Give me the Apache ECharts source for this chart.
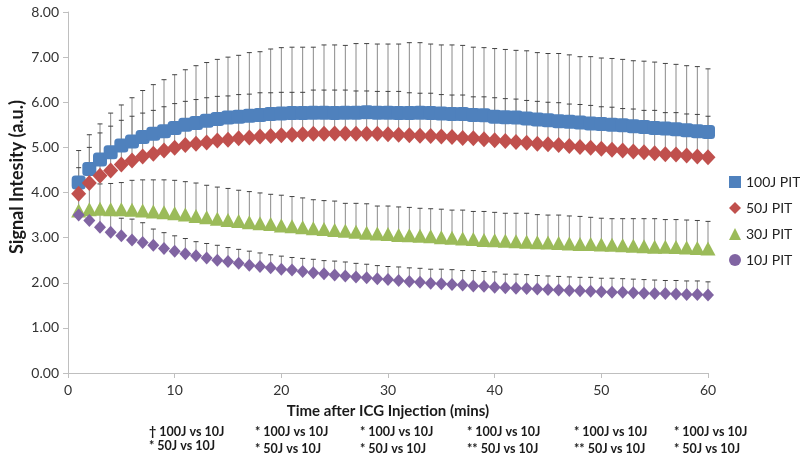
<!DOCTYPE html>
<html>
<head>
<meta charset="utf-8">
<script src="https://cdn.jsdelivr.net/npm/echarts@6/dist/echarts.min.js"></script>
<style>html,body{margin:0;padding:0;background:#fff;}#c{width:800px;height:459px;}</style>
</head>
<body>
<div id="c"></div>
<script>
var minutes = [];
for (var m = 1; m <= 60; m++) minutes.push(m);

var seriesNames = ['100J PIT', '50J PIT', '30J PIT', '10J PIT'];

var mean100 = [4.22,4.52,4.73,4.89,5.04,5.13,5.23,5.30,5.36,5.43,5.50,5.54,5.59,5.63,5.66,5.68,5.70,5.72,5.74,5.75,
  5.76,5.76,5.77,5.77,5.76,5.77,5.77,5.78,5.77,5.77,5.76,5.76,5.77,5.76,5.75,5.74,5.74,5.72,5.71,5.68,
  5.67,5.66,5.64,5.62,5.60,5.58,5.57,5.55,5.53,5.52,5.50,5.49,5.47,5.45,5.43,5.42,5.40,5.38,5.36,5.34];
var upper100 = [4.93,5.28,5.52,5.76,5.94,6.10,6.26,6.39,6.50,6.61,6.72,6.81,6.88,6.95,7.00,7.04,7.10,7.12,7.18,7.21,
  7.22,7.22,7.22,7.27,7.27,7.26,7.30,7.30,7.29,7.29,7.29,7.32,7.32,7.29,7.27,7.27,7.26,7.22,7.21,7.19,
  7.17,7.15,7.14,7.10,7.08,7.08,7.05,7.01,7.01,6.98,6.97,6.95,6.92,6.91,6.89,6.86,6.84,6.81,6.79,6.74];

var mean50 = [3.97,4.21,4.37,4.49,4.62,4.71,4.80,4.86,4.93,4.99,5.05,5.08,5.11,5.15,5.17,5.20,5.22,5.24,5.25,5.27,
  5.28,5.29,5.30,5.30,5.31,5.31,5.30,5.30,5.30,5.29,5.28,5.27,5.26,5.25,5.24,5.23,5.21,5.20,5.18,5.16,
  5.14,5.12,5.10,5.08,5.07,5.05,5.03,5.01,4.99,4.97,4.95,4.93,4.91,4.89,4.87,4.85,4.84,4.82,4.80,4.78];
var upper50 = [4.55,5.00,5.32,5.47,5.60,5.69,5.76,5.82,5.90,5.97,6.02,6.06,6.10,6.13,6.14,6.17,6.18,6.21,6.21,6.22,
  6.22,6.22,6.27,6.27,6.27,6.27,6.25,6.25,6.24,6.24,6.24,6.21,6.20,6.20,6.17,6.16,6.16,6.12,6.12,6.10,
  6.08,6.07,6.04,6.02,6.00,5.99,5.96,5.95,5.93,5.90,5.89,5.86,5.85,5.82,5.82,5.77,5.77,5.74,5.73,5.69];

var mean30 = [3.60,3.63,3.64,3.63,3.63,3.62,3.60,3.58,3.56,3.54,3.51,3.48,3.45,3.42,3.39,3.37,3.34,3.32,3.30,3.27,
  3.25,3.23,3.21,3.19,3.17,3.15,3.13,3.11,3.09,3.08,3.06,3.05,3.04,3.03,3.01,3.00,2.98,2.97,2.95,2.94,
  2.93,2.92,2.91,2.90,2.89,2.88,2.87,2.86,2.86,2.85,2.84,2.83,2.82,2.81,2.80,2.80,2.79,2.78,2.77,2.76];
var upper30 = [4.00,4.15,4.19,4.20,4.22,4.27,4.28,4.28,4.28,4.27,4.24,4.21,4.16,4.12,4.09,4.05,4.02,3.99,3.96,3.94,
  3.91,3.88,3.84,3.82,3.81,3.76,3.76,3.75,3.70,3.70,3.68,3.67,3.65,3.64,3.63,3.61,3.61,3.58,3.58,3.56,
  3.54,3.54,3.54,3.51,3.50,3.50,3.48,3.47,3.45,3.43,3.42,3.42,3.42,3.42,3.42,3.40,3.40,3.39,3.38,3.36];

var mean10 = [3.50,3.38,3.23,3.12,3.04,2.95,2.89,2.83,2.76,2.70,2.64,2.60,2.55,2.50,2.47,2.43,2.39,2.36,2.33,2.30,
  2.28,2.25,2.22,2.20,2.17,2.15,2.13,2.11,2.09,2.07,2.05,2.03,2.01,1.99,1.98,1.96,1.95,1.93,1.92,1.90,
  1.89,1.88,1.87,1.86,1.85,1.84,1.83,1.82,1.81,1.80,1.79,1.79,1.78,1.77,1.76,1.76,1.75,1.74,1.74,1.73];
var upper10 = [3.55,3.55,3.60,3.55,3.43,3.41,3.33,3.19,3.11,3.04,2.98,2.91,2.87,2.83,2.78,2.74,2.70,2.66,2.62,2.59,
  2.56,2.54,2.52,2.49,2.48,2.46,2.43,2.41,2.38,2.36,2.35,2.33,2.32,2.30,2.30,2.29,2.27,2.27,2.25,2.24,
  2.19,2.19,2.18,2.16,2.15,2.14,2.13,2.12,2.12,2.10,2.10,2.09,2.08,2.07,2.06,2.05,2.05,2.04,2.04,2.02];

var xTicks = [0, 10, 20, 30, 40, 50, 60];
var yTicks = [0, 1, 2, 3, 4, 5, 6, 7, 8];

var annotRow1 = ['\u2020 100J vs 10J', '* 100J vs 10J', '* 100J vs 10J', '* 100J vs 10J', '* 100J vs 10J', '* 100J vs 10J'];
var annotRow2 = ['* 50J vs 10J', '* 50J vs 10J', '* 50J vs 10J', '** 50J vs 10J', '** 50J vs 10J', '* 50J vs 10J'];

var colors = ['#4F81BD', '#C0504D', '#9BBB59', '#8064A2'];
var symbols = ['roundRect', 'diamond', 'triangle', 'diamond'];
var symbolSizes = [[14, 14], [15, 16], [15, 14], [12, 13]];
var means = [mean100, mean50, mean30, mean10];
var uppers = [upper100, upper50, upper30, upper10];

var FONT = 'Lato, "Open Sans", sans-serif';

function pts(arr) { return minutes.map(function (m, i) { return [m, arr[i]]; }); }
function errPts(meanArr, upArr) { return minutes.map(function (m, i) { return [m, meanArr[i], upArr[i]]; }); }

function renderErr(params, api) {
  var x = api.value(0);
  var p0 = api.coord([x, api.value(1)]);
  var p1 = api.coord([x, api.value(2)]);
  return {
    type: 'group',
    children: [
      { type: 'line', shape: { x1: p0[0], y1: p0[1], x2: p1[0], y2: p1[1] }, style: { stroke: '#8a8a8a', lineWidth: 1 } },
      { type: 'line', shape: { x1: p1[0] - 2.5, y1: p1[1], x2: p1[0] + 2.5, y2: p1[1] }, style: { stroke: '#404040', lineWidth: 1 } }
    ]
  };
}

var series = [];
for (var s = 0; s < 4; s++) {
  series.push({
    name: seriesNames[s] + ' err',
    type: 'custom',
    renderItem: renderErr,
    data: errPts(means[s], uppers[s]),
    encode: { x: 0, y: [1, 2] },
    z: 1,
    silent: true
  });
}
for (var s2 = 0; s2 < 4; s2++) {
  series.push({
    name: seriesNames[s2],
    type: 'scatter',
    data: pts(means[s2]),
    symbol: symbols[s2],
    symbolSize: symbolSizes[s2],
    itemStyle: { color: colors[s2], opacity: 1 },
    z: 2 + s2
  });
}

var graphics = [{
  type: 'text', x: 17, y: 177, rotation: Math.PI / 2,
  style: { text: 'Signal Intesity (a.u.)', font: 'bold 18px ' + FONT, fill: '#1a1a1a', align: 'center', verticalAlign: 'middle' }
}];
var colX = [149, 255, 360, 467, 574, 674];
for (var c = 0; c < colX.length; c++) {
  graphics.push({ type: 'text', x: colX[c], y: 432, style: { text: annotRow1[c], font: 'bold 12.5px ' + FONT, fill: '#1a1a1a', align: 'left', verticalAlign: 'middle' } });
  graphics.push({ type: 'text', x: colX[c], y: c === 0 ? 446 : 449, style: { text: annotRow2[c], font: 'bold 12.5px ' + FONT, fill: '#1a1a1a', align: 'left', verticalAlign: 'middle' } });
}

var chart = echarts.init(document.getElementById('c'), null, { renderer: 'canvas' });
chart.setOption({
  animation: false,
  backgroundColor: '#ffffff',
  color: colors,
  grid: { left: 68, right: 92, top: 12, bottom: 86, containLabel: false },
  legend: {
    data: seriesNames.map(function (n, i) { return { name: n, icon: ['rect', 'diamond', 'triangle', 'circle'][i] }; }),
    orient: 'vertical',
    left: 724, top: 170,
    itemWidth: 12, itemHeight: 12, itemGap: 12,
    textStyle: { fontFamily: FONT, fontSize: 14, color: '#222' }
  },
  xAxis: {
    type: 'value', min: xTicks[0], max: xTicks[xTicks.length - 1], interval: 10,
    name: 'Time after ICG Injection (mins)', nameLocation: 'middle', nameGap: 31,
    nameTextStyle: { fontFamily: FONT, fontWeight: 'bold', fontSize: 15, color: '#1a1a1a' },
    axisLine: { lineStyle: { color: '#bfbfbf' } },
    axisTick: { show: true, inside: false, length: 5, lineStyle: { color: '#bfbfbf' } },
    axisLabel: { fontFamily: FONT, fontSize: 14, color: '#333', margin: 10 },
    splitLine: { show: false }
  },
  yAxis: {
    type: 'value', min: yTicks[0], max: yTicks[yTicks.length - 1], interval: 1,
    axisLine: { show: true, lineStyle: { color: '#bfbfbf' } },
    axisTick: { show: true, inside: false, length: 5, lineStyle: { color: '#bfbfbf' } },
    axisLabel: { fontFamily: FONT, fontSize: 14, color: '#333', margin: 9, formatter: function (v) { return v.toFixed(2); } },
    splitLine: { show: false }
  },
  graphic: graphics,
  series: series
});
</script>
</body>
</html>
